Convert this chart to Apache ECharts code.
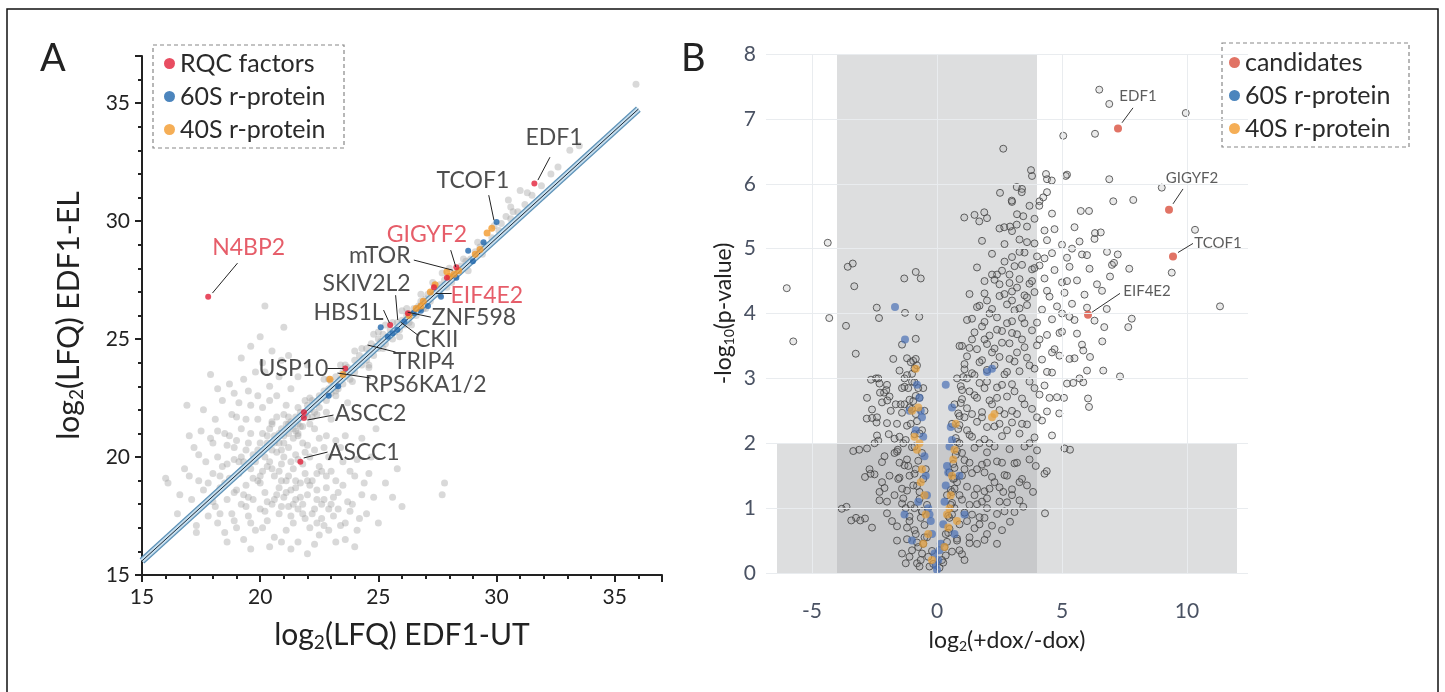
<!DOCTYPE html>
<html>
<head>
<meta charset="utf-8">
<script src="https://cdn.jsdelivr.net/npm/echarts@6/dist/echarts.min.js"></script>
<style>
  html, body { margin: 0; padding: 0; background: #fff; }
  #main { width: 1445px; height: 692px; }
</style>
</head>
<body>
<div id="main"></div>
<script>
// ---------- panel A: log2(LFQ) EDF1-UT vs EDF1-EL ----------
const grayA = [
  [20.6,20.9],[20.8,20.6],[20.9,21.2],[21.0,20.9],[21.1,21.4],[21.2,21.0],[21.3,21.5],[21.4,21.2],[21.5,21.7],[21.5,21.1],
  [21.6,21.4],[21.7,21.9],[21.8,21.3],[21.9,21.8],[22.0,22.2],[22.0,21.7],[22.1,22.0],[22.2,22.4],[22.3,21.9],[22.4,22.3],
  [22.5,22.6],[22.5,22.1],[22.6,22.5],[22.7,22.8],[22.8,22.4],[22.9,22.9],[23.0,23.2],[23.0,22.7],[23.1,23.0],[23.2,23.4],
  [23.3,22.9],[23.4,23.3],[23.5,23.6],[23.5,23.1],[23.6,23.5],[23.7,23.8],[23.8,23.3],[23.9,23.7],[24.0,24.1],[24.0,23.6],
  [24.1,23.9],[24.2,24.3],[24.3,23.9],[24.4,24.2],[24.5,24.6],[24.5,24.1],[24.6,24.4],[24.7,24.8],[24.8,24.3],[24.9,24.7],
  [25.0,25.0],[25.0,24.6],[25.1,24.9],[25.2,25.2],[25.3,24.8],[25.4,25.1],[25.5,25.4],[25.6,25.0],[25.7,25.3],[25.8,25.7],
  [25.9,25.4],[26.0,25.8],[26.1,25.6],[26.2,26.0],[26.3,25.7],[26.4,26.1],[26.5,26.3],[26.6,26.0],[26.7,26.4],[26.8,26.6],
  [26.9,26.3],[27.0,26.7],[27.1,26.9],[27.2,26.6],[27.3,27.0],[27.4,27.2],[27.5,26.9],[27.6,27.3],[27.8,27.5],[27.9,27.2],
  [28.0,27.6],[28.2,27.8],[28.4,27.9],[28.5,28.1],[28.7,28.3],[28.9,28.4],[29.1,28.7],[29.3,28.9],[29.5,29.0],[29.8,29.3],
  [30.1,29.6],[30.4,30.2],[30.6,30.1],[30.5,30.9],[30.6,30.6],[31.0,31.3],[31.3,31.2],[30.9,30.4],[31.2,30.7],[31.9,31.5],
  [32.3,32.0],[32.6,32.3],[33.1,33.0],[33.5,33.2],[35.9,35.8],[22.7,23.3],[24.0,24.5],[25.3,25.6],[23.2,22.6],[24.6,23.9],
  [21.2,21.7],[21.6,21.0],[22.1,22.5],[22.4,21.8],[22.9,23.3],[23.2,22.8],[23.6,23.9],[23.9,23.2],[24.3,24.6],[24.6,23.8],
  [25.0,25.3],[25.2,24.6],[25.6,25.7],[25.9,25.1],[26.2,26.3],[26.4,25.6],[26.8,26.9],[27.0,26.3],[27.3,27.4],[27.6,26.9],
  [28.0,28.0],[28.1,27.4],[28.6,28.4],[28.8,27.9],[29.2,29.1],[29.4,28.6],[29.9,29.8],[30.2,29.9],[30.7,30.4],[31.5,31.1],
  [20.5,21.4],[20.9,20.3],[20.3,20.6],[21.9,22.4],[23.4,23.9],[24.8,25.2],[26.0,26.2],[27.7,27.8],
  [16.1,18.9],[16.5,17.6],[16.8,19.5],[16.9,22.2],[17.1,18.2],[17.2,20.4],[17.3,17.1],[17.4,19.0],[17.5,21.1],[17.6,18.6],
  [17.7,19.8],[17.8,17.5],[17.9,20.8],[18.0,18.1],[18.0,19.3],[18.1,21.6],[18.2,17.2],[18.2,20.0],[18.3,18.7],[18.4,22.4],
  [18.4,19.6],[18.5,16.8],[18.5,21.0],[18.6,18.2],[18.6,20.5],[18.7,19.1],[18.7,23.1],[18.8,17.6],[18.8,21.8],[18.9,19.9],
  [18.9,18.5],[19.0,20.7],[19.0,17.0],[19.1,19.3],[19.1,22.3],[19.2,18.0],[19.2,21.2],[19.3,19.8],[19.3,16.5],[19.4,20.3],
  [19.4,18.8],[19.5,22.8],[19.5,17.5],[19.6,21.0],[19.6,19.5],[19.7,18.2],[19.7,20.1],[19.8,23.6],[19.8,16.9],[19.9,21.6],
  [19.9,19.0],[20.0,20.6],[20.0,17.8],[20.1,22.1],[20.1,19.4],[20.2,18.5],[20.2,26.4],[20.3,20.9],[20.3,17.3],[20.4,19.8],
  [20.4,23.0],[20.5,18.0],[20.5,21.5],[20.6,19.2],[20.6,16.6],[20.7,20.2],[20.7,22.6],[20.8,18.7],[20.8,17.6],[20.9,19.7],
  [20.9,24.1],[21.0,18.3],[21.0,21.8],[21.1,19.0],[21.1,16.9],[21.2,20.4],[21.2,17.9],[21.3,22.9],[21.3,18.6],[21.4,19.5],
  [21.4,17.2],[21.5,20.1],[21.5,18.2],[21.6,23.4],[21.6,16.4],[21.7,18.9],[21.8,17.6],[21.8,20.6],[21.9,19.3],[22.0,15.9],
  [22.0,18.4],[22.1,17.0],[22.1,20.0],[22.2,19.0],[22.3,17.8],[22.3,21.2],[22.4,18.6],[22.5,16.7],[22.5,19.6],[22.6,17.4],
  [22.7,18.2],[22.7,20.4],[22.8,19.2],[22.9,16.9],[23.0,18.0],[23.0,21.6],[23.1,17.5],[23.2,19.0],[23.3,18.5],[23.4,17.1],
  [23.5,19.8],[23.6,16.5],[23.7,18.1],[23.8,17.7],[24.0,19.2],[24.1,16.9],[24.3,18.4],[24.5,17.6],[24.7,20.0],[25.0,17.2],
  [25.3,18.9],[26.0,17.9],[27.7,18.4],[27.8,18.9],[19.6,24.7],[20.0,25.1],[20.5,24.5],[19.2,24.2],[21.0,25.5],[16.0,19.1],
  [19.1,19.8],[19.3,18.4],[19.5,20.6],[19.7,19.1],[19.9,20.3],[20.0,18.9],[20.2,20.0],[20.3,18.1],[20.4,21.2],[20.5,19.5],
  [20.6,20.6],[20.7,18.4],[20.8,21.0],[20.9,19.0],[21.0,20.0],[21.1,18.5],[21.2,21.4],[21.3,19.8],[21.4,18.0],[21.5,19.0],
  [21.6,20.9],[21.7,18.3],[21.8,19.7],[21.9,17.4],[22.0,20.5],[22.1,18.8],[22.2,21.7],[22.4,19.3],[22.6,18.0],[22.8,20.9],
  [18.6,19.7],[18.9,20.4],[18.3,19.2],[18.1,17.9],[19.4,17.9],[20.1,17.0],[20.9,16.4],[21.6,17.8],[22.9,17.8],[23.4,20.4],
  [17.0,19.2],[17.4,20.1],[17.8,18.9],[18.0,20.6],[18.3,17.6],[18.5,18.9],[18.7,20.9],[18.9,17.3],[19.0,18.6],[19.2,20.0],
  [19.4,21.6],[19.5,18.3],[19.6,17.2],[19.8,19.8],[19.9,22.6],[20.0,19.2],[20.1,21.0],[20.2,17.7],[20.3,19.6],[20.5,20.3],
  [20.6,18.2],[20.7,21.7],[20.8,19.4],[20.9,17.9],[21.0,20.6],[21.1,22.2],[21.2,19.2],[21.3,17.5],[21.4,20.8],[21.5,18.7],
  [21.6,19.9],[21.7,21.3],[21.8,18.0],[21.9,20.2],[22.0,19.0],[22.1,21.4],[22.2,17.6],[22.3,20.3],[22.4,18.2],[22.5,20.8],
  [22.6,19.4],[22.7,17.1],[22.8,18.7],[22.9,20.0],[23.0,19.4],[23.1,18.3],[23.2,20.7],[23.3,17.8],[23.5,18.8],[23.6,20.9],
  [23.8,19.4],[23.9,18.0],[24.1,19.9],[24.2,17.4],[24.4,18.9],[24.6,19.3],[24.8,18.3],[19.0,21.7],[18.2,21.1],[17.6,22.0],
  [17.0,20.9],[16.6,18.4],[17.3,16.8],[18.6,16.4],[19.6,16.1],[20.4,16.2],[21.3,16.1],[22.3,16.3],[23.2,16.4],[24.0,16.2],
  [19.3,23.3],[20.2,23.6],[20.8,23.4],[21.2,24.3],[18.2,22.9],[17.9,23.5],[22.0,23.9],[19.6,22.2],[20.4,22.4],[21.6,22.1],
  [18.9,22.7],[20.1,24.0],[22.4,17.2],[23.6,17.2],[25.6,18.3],[25.8,19.5],[24.9,21.2],[24.3,20.8],[23.7,22.3],[22.8,21.9]
];
const blueA = [
  [28.8,28.75],[29.45,29.1],[29.0,28.3],[27.65,26.8],[27.1,26.4],[26.5,26.1],[26.1,25.75],[25.8,25.4],
  [25.6,25.25],[25.4,25.1],[26.8,26.2],[23.3,23.0],[22.9,22.6],[28.3,27.6],[30.0,29.96],[25.1,25.5]
];
const orangeA = [
  [29.8,29.7],[29.6,29.5],[29.3,28.8],[29.1,28.6],[28.4,27.9],[28.2,27.75],[28.0,27.65],[27.9,27.85],
  [27.4,27.3],[27.2,27.0],[26.9,26.6],[26.8,26.4],[26.6,26.3],[26.3,26.0],[22.95,23.3],[23.5,23.5]
];
const redA = [
  [31.6,31.6],[17.8,26.8],[28.3,28.05],[27.35,27.2],[26.25,26.1],[25.5,25.6],[23.6,23.75],
  [21.85,21.65],[21.85,21.9],[21.7,19.8],[27.9,27.6]
];
const fitX = [15, 36];
const fitY = [15.6, 34.75];
const labelsA = [
  ['EDF1', 32.43, 33.56], ['TCOF1', 29.0, 31.74], ['GIGYF2', 27.05, 29.41], ['mTOR', 25.06, 28.52],
  ['SKIV2L2', 24.5, 27.37], ['EIF4E2', 29.59, 26.86], ['HBS1L', 23.74, 26.14], ['ZNF598', 29.04, 25.93],
  ['CKII', 27.47, 24.96], ['TRIP4', 26.92, 24.03], ['USP10', 21.41, 23.73], ['RPS6KA1/2', 27.0, 23.09],
  ['ASCC2', 24.67, 21.86], ['ASCC1', 24.38, 20.17], ['N4BP2', 19.51, 28.86]
];
const redLabelsA = ['N4BP2', 'GIGYF2', 'EIF4E2'];
const leadersA = [
  [[17.98,26.95],[19.04,28.22]], [[29.67,31.1],[29.89,30.04]], [[32.26,32.71],[31.75,31.74]],
  [[28.06,28.77],[28.28,28.05]], [[26.5,28.35],[28.15,27.92]], [[25.73,26.86],[25.82,25.81]],
  [[27.43,26.95],[28.1,26.95]], [[25.22,26.23],[25.47,25.68]], [[27.22,25.93],[26.24,26.14]],
  [[26.67,25.17],[25.94,25.72]], [[25.73,24.45],[24.54,24.75]], [[22.85,23.77],[23.53,23.77]],
  [[24.67,23.35],[23.27,23.56]], [[23.1,21.78],[22.0,21.57]], [[22.85,20.21],[21.84,19.96]]
];

// ---------- panel B: volcano ----------
const grayB = [
  [-0.3,0.1],[-0.15,0.14],[0.1,0.08],[0.25,0.16],
  [-0.6,0.3],[-0.2,0.34],[0.35,0.27],[0.6,0.33],[1.0,0.29],
  [-1.2,0.52],[-0.8,0.47],[-0.4,0.55],[0.4,0.48],[0.8,0.53],[1.3,0.46],[1.9,0.51],
  [-1.6,0.72],[-0.9,0.66],[-0.5,0.74],[0.5,0.68],[0.9,0.75],[1.5,0.69],[2.2,0.73],[2.6,0.66],
  [-2.0,0.92],[-1.1,0.87],[-0.6,0.95],[0.45,0.88],[1.1,0.93],[1.7,0.86],[2.4,0.91],[3.1,0.94],
  [-2.3,1.12],[-1.4,1.07],[-0.7,1.14],[0.6,1.08],[1.0,1.13],[1.6,1.06],[2.0,1.15],[2.8,1.09],[3.3,1.12],
  [-2.1,1.31],[-1.2,1.27],[-0.8,1.34],[0.55,1.28],[1.2,1.33],[1.9,1.26],[2.5,1.32],[3.0,1.29],[3.6,1.35],
  [-2.5,1.52],[-1.5,1.47],[-0.9,1.53],[0.7,1.46],[1.4,1.54],[2.2,1.48],[2.7,1.51],[3.4,1.45],[4.3,1.53],
  [-2.2,1.71],[-1.3,1.66],[-0.75,1.73],[0.65,1.68],[1.1,1.74],[1.8,1.67],[2.4,1.72],[3.1,1.69],[3.7,1.75],
  [-2.8,1.92],[-1.6,1.87],[-1.0,1.94],[0.8,1.88],[1.5,1.93],[2.0,1.86],[2.9,1.91],[3.5,1.95],[4.0,1.89],[5.1,1.92],
  [-2.4,2.12],[-1.7,2.07],[-0.9,2.14],[0.75,2.08],[1.3,2.13],[1.9,2.06],[2.6,2.11],[3.3,2.15],[3.9,2.09],[4.6,2.12],
  [-2.0,2.31],[-1.2,2.27],[-0.8,2.34],[0.9,2.28],[1.6,2.33],[2.3,2.26],[3.0,2.32],[3.6,2.29],[4.2,2.35],
  [-2.6,2.52],[-1.4,2.47],[-1.0,2.53],[0.85,2.46],[1.2,2.54],[1.8,2.48],[2.5,2.51],[3.2,2.45],[3.8,2.53],[4.4,2.49],
  [-1.9,2.72],[-1.1,2.67],[-0.85,2.73],[1.0,2.68],[1.5,2.74],[2.1,2.66],[2.8,2.72],[3.4,2.69],[4.1,2.75],[4.8,2.71],
  [-2.3,2.92],[-1.3,2.87],[-0.9,2.94],[0.95,2.88],[1.7,2.93],[2.4,2.86],[3.0,2.91],[3.7,2.95],[4.3,2.89],[5.2,2.92],
  [-1.5,3.12],[-1.0,3.07],[1.1,3.14],[1.4,3.08],[2.0,3.13],[2.7,3.06],[3.3,3.11],[3.9,3.15],[4.6,3.09],[6.0,3.12],
  [-1.2,3.31],[-0.95,3.27],[1.2,3.34],[1.8,3.28],[2.5,3.33],[3.1,3.26],[3.6,3.32],[4.2,3.29],[4.9,3.35],[5.5,3.31],
  [-1.4,3.52],[1.3,3.47],[2.0,3.53],[2.3,3.46],[2.9,3.54],[3.5,3.48],[4.0,3.51],[4.7,3.45],[5.8,3.52],
  [1.5,3.71],[2.1,3.66],[2.6,3.73],[3.2,3.68],[3.8,3.74],[4.4,3.67],[5.0,3.72],[5.6,3.69],
  [1.4,3.92],[1.9,3.87],[2.4,3.94],[3.0,3.88],[3.4,3.93],[4.0,3.86],[4.6,3.91],[5.3,3.95],[6.3,3.89],
  [1.7,4.12],[2.2,4.07],[2.8,4.14],[3.3,4.08],[3.6,4.13],[4.2,4.06],[4.8,4.11],[5.4,4.15],[6.0,4.09],
  [1.9,4.31],[2.5,4.27],[3.0,4.34],[3.5,4.28],[3.9,4.33],[4.5,4.26],[5.1,4.32],[5.9,4.29],[6.6,4.35],
  [2.3,4.52],[2.9,4.47],[3.3,4.53],[3.7,4.46],[4.3,4.54],[5.0,4.48],[5.6,4.51],[6.4,4.45],
  [1.6,4.71],[2.6,4.66],[3.1,4.73],[3.8,4.68],[4.1,4.74],[4.7,4.67],[5.3,4.72],[6.1,4.69],[7.0,4.75],
  [2.2,4.92],[3.0,4.87],[3.5,4.94],[4.0,4.88],[4.6,4.93],[5.2,4.86],[5.8,4.91],[6.8,4.95],
  [1.8,5.12],[2.7,5.07],[3.3,5.14],[3.9,5.08],[4.4,5.13],[5.0,5.06],[5.7,5.11],[6.3,5.15],
  [2.5,5.31],[3.0,5.27],[3.6,5.34],[4.3,5.28],[5.5,5.33],
  [1.5,5.52],[2.0,5.47],[3.2,5.53],[3.9,5.46],[4.6,5.54],
  [3.0,5.72],[3.7,5.66],[4.1,5.73],[3.4,5.92],[4.4,5.87],[3.8,6.12],[4.4,6.07],[5.2,6.14],
  [0.9,0.35],[1.3,0.55],[1.7,0.75],[0.7,1.0],[1.3,1.05],[2.0,1.0],[0.8,1.4],[1.6,1.3],[2.3,1.4],[1.1,1.6],
  [1.9,1.55],[2.6,1.7],[1.0,1.85],[1.7,2.0],[2.3,1.95],[1.2,2.2],[2.0,2.25],[2.8,2.2],[1.4,2.45],[2.2,2.6],
  [3.0,2.5],[1.3,2.8],[1.9,2.85],[2.6,2.9],[1.5,3.05],[2.3,3.2],[2.9,3.3],[1.6,3.45],[2.6,3.55],[3.4,3.6],
  [1.8,3.8],[2.8,3.85],[2.1,4.0],[3.1,4.05],[2.7,4.3],[3.2,4.4],[3.6,4.25],[2.4,4.6],[3.4,4.75],
  [-0.45,1.6],[-0.6,2.2],[-0.7,2.7],[-0.55,0.45],[-0.9,1.0],[-1.2,1.75],[-1.1,2.55],[-0.8,3.2],[-1.0,0.35],
  [-6.01,4.39],[-5.75,3.57],[-4.37,5.09],[-4.31,3.93],[-3.57,4.72],[-3.37,4.77],[-3.31,4.42],[-3.64,3.81],
  [-3.25,3.38],[-2.41,4.09],[-2.32,3.93],[-1.31,4.54],[-0.85,4.64],[-0.65,4.54],[-1.28,4.01],[-0.71,3.95],
  [-0.85,3.61],[2.65,6.54],[3.76,6.21],[4.36,6.15],[4.59,6.05],[5.15,6.12],[2.52,5.86],[3.39,5.87],[3.19,5.95],
  [2.99,5.74],[4.25,5.79],[4.09,5.66],[1.09,5.48],[1.69,5.42],[1.89,5.56],[2.69,5.33],[2.92,5.34],[3.19,5.37],
  [3.45,5.5],[5.05,6.74],[6.32,6.77],[6.49,7.45],[6.89,7.23],[9.95,7.09],[6.89,6.07],[7.05,5.73],[7.85,5.75],
  [5.75,5.58],[6.08,5.58],[8.99,5.94],[10.32,5.29],[9.39,4.63],[11.32,4.11],[7.69,4.69],[7.23,4.91],[7.08,4.78],
  [6.92,4.57],[6.32,5.24],[6.55,5.25],[7.79,3.92],[7.65,3.79],[6.69,3.79],[6.61,3.57],[5.85,3.43],[6.12,3.33],
  [6.79,4.07],[-3.62,1.02],[-3.24,0.85],[-2.88,0.84],[-3.11,1.9],[-2.66,1.53],[-2.44,3.0],[-2.6,2.39],
  [-2.42,2.32],[-2.12,2.78],[-2.03,2.82],[-2.2,2.63],[-1.93,2.14],[-1.57,1.9],[-2.35,2.04],[5.32,1.9],
  [4.32,0.92],[3.45,1.02],[2.92,0.79],[2.65,1.25],[3.84,1.25],[4.39,1.57],[3.95,1.65],[-3.81,0.99],
  [-3.43,0.81],[-3.07,0.81],[-3.35,1.88],[-2.88,1.48],[-2.64,2.98],[-2.28,2.78],[-1.99,2.66],[-2.81,2.38],
  [5.85,2.94],[6.04,2.69],[6.08,2.56],[6.65,3.12],[7.32,3.03],[5.45,2.93],[5.08,2.7],[4.89,2.46],
  [-1.7,1.2],[-1.8,0.8],[-1.6,0.5],[-1.9,1.5],[-2.0,1.1],[-2.1,1.8],[-2.2,1.4],[-1.4,0.3],[-1.25,0.15],
  [-0.8,0.15],[-0.65,0.2],[-2.4,2.4],[-2.6,0.7],[-2.3,1.25],[-2.7,1.6],[-2.5,2.0],[-1.85,2.5],[-2.0,2.9],
  [-1.75,3.3],[-2.35,3.0],[-2.8,2.7],[-1.25,1.0],[-1.4,1.3],[-1.2,0.7],[-1.5,1.7],[-1.35,2.0],[-1.6,2.3],
  [-1.45,2.6],[-1.3,3.0],[-0.75,0.4],[-1.05,1.05],[-1.1,1.5],[-0.5,2.5],[-0.55,2.85],
  [0.2,0.2],[0.3,0.4],[0.45,0.62],[0.5,0.85],[0.55,1.05],[0.6,1.25],[0.65,1.45],[0.7,1.62],[0.75,1.82],
  [0.8,2.02],[0.85,2.22],[0.9,2.42],[0.95,2.62],[1.0,2.82],[1.05,3.02],[1.1,3.22],
  [-0.35,0.25],[-0.5,0.55],[-0.65,0.85],[-0.4,1.05],[-0.7,1.25],[-0.95,1.35],[-0.55,1.45],[-0.85,1.6],
  [-1.15,1.65],[-0.6,1.85],[-0.9,1.95],[-1.25,2.05],[-0.7,2.15],[-1.05,2.3],[-0.85,2.45],[-1.3,2.6],
  [-0.95,2.65],[-0.75,2.85],[-1.15,2.85],[-1.0,2.95],[-0.9,3.15],[-1.2,3.05],[-0.85,3.3],[-1.05,3.25],
  [-0.6,0.95],[-0.85,0.6],[-1.1,0.8],[-1.35,1.15],[-1.55,1.45],[-1.7,1.85],[-1.5,2.1],[-1.65,2.6],
  [-1.4,2.85],[-1.1,0.25],[-0.7,0.1],
  [0.35,0.6],[0.6,0.9],[0.9,1.2],[1.2,0.8],[1.5,1.2],[1.8,1.1],[2.1,1.3],[2.5,1.1],[0.7,1.3],[1.0,1.5],
  [1.3,1.7],[1.6,1.6],[2.0,1.7],[2.8,1.5],[3.2,1.7],[0.9,2.0],[1.4,2.1],[1.8,2.4],[2.1,2.0],[2.5,2.3],
  [3.4,2.3],[3.7,2.0],[1.1,2.4],[1.6,2.7],[2.0,2.95],[2.4,2.7],[2.7,2.45],[3.1,2.8],[3.5,2.6],[4.0,2.4],
  [1.2,3.0],[1.7,3.25],[2.2,3.4],[2.8,3.1],[3.2,3.4],[3.7,3.2],[4.4,3.1],[1.4,3.6],[1.9,3.6],[2.4,3.75],
  [3.0,3.7],[3.5,3.85],[4.1,3.6],[4.6,3.4],[2.0,4.2],[2.5,4.45],[3.0,4.2],[3.8,4.5],[4.4,4.35],[2.7,4.8],
  [3.3,4.95],[3.9,4.7],[4.3,4.85],[2.2,4.6],[1.2,3.9],[1.0,3.5],[5.0,4.0],[5.5,3.9],[5.2,4.5],[0.8,0.5],
  [1.1,0.2],[1.6,0.45],[2.0,0.6],[2.4,0.45],[1.4,0.9],[1.9,0.85],[2.7,0.95],[3.0,1.2],[3.3,1.4],[0.4,1.2],
  [0.5,1.55],[0.6,2.3],[0.7,2.6],[0.8,3.0],[0.9,3.5],[1.3,4.3],[1.6,4.1],[1.9,4.5],[2.9,4.6],[3.6,5.1],
  [4.7,5.3],[5.4,5.0],[6.0,4.9],[4.9,3.7],[5.3,3.3],[5.7,3.0],[4.5,2.7],[3.9,2.85]
];
const blueB = [
  [0.0,0.05],[0.05,0.2],[-0.1,0.3],[0.15,0.45],[-0.2,0.6],[0.25,0.75],[-0.3,0.9],[0.3,1.1],[-0.4,1.2],
  [0.35,1.35],[-0.45,1.5],[0.4,1.65],[-0.5,1.8],[0.5,1.95],[-0.55,2.1],[0.55,2.25],[-0.6,2.4],[0.6,2.55],
  [-0.7,2.7],[-0.8,2.9],[-1.68,4.1],[-1.28,3.6],[-1.0,0.5],[-0.75,1.1],[0.7,0.6],[0.9,1.5],[1.1,0.9],
  [2.0,3.1],[2.2,3.15],[-1.3,0.9],[-1.1,2.5],[-0.85,2.2],[0.35,2.9],[-0.05,0.12],[0.1,0.35],[-0.25,0.8],
  [0.45,1.55],[-0.35,1.0],[0.6,2.05],[-0.65,2.5]
];
const orangeB = [
  [-0.85,3.15],[-0.9,2.1],[-0.7,2.0],[-0.8,1.9],[-0.6,1.6],[-0.5,1.2],[-0.45,0.9],[-0.35,0.6],[-0.2,0.2],
  [0.3,0.4],[0.4,0.9],[0.55,1.2],[0.6,1.5],[0.7,1.9],[0.75,2.3],[0.5,1.0],[0.45,0.7],[-0.55,0.45],
  [2.2,2.4],[2.3,2.45],[0.8,0.8],[-0.65,1.4],[0.65,1.75],[-1.0,2.5],[-0.75,2.55]
];
const redB = [[7.24,6.85],[9.28,5.6],[9.44,4.88],[6.04,3.98]];
const labelsB = [['EDF1', 8.04, 7.35], ['GIGYF2', 10.2, 6.09], ['TCOF1', 11.24, 5.09], ['EIF4E2', 8.4, 4.35]];
const leadersB = [
  [[7.84,7.17],[7.4,6.94]], [[9.84,5.92],[9.44,5.69]], [[10.24,5.08],[9.64,4.94]], [[7.32,4.31],[6.2,4.02]]
];
const xTicksB = [-5, 0, 5, 10];
const yTicksB = [0, 1, 2, 3, 4, 5, 6, 7, 8];
// shaded non-significant zones: [x0, x1, y0, y1]
const zonesB = [[-4, 4, 0, 8], [-6.4, 12, 0, 2]];

const FONT = 'Lato';
const chart = echarts.init(document.getElementById('main'));

const subName = (size) => ({
  t: { fontFamily: FONT, fontSize: size, color: '#222' },
  s: { fontFamily: FONT, fontSize: Math.round(size * 0.62), color: '#222', padding: [Math.round(size * 0.45), 0, 0, 0] }
});

const axisA = {
  type: 'value', min: 15, max: 37, interval: 5,
  axisLine: { lineStyle: { color: '#222', width: 2 } },
  axisTick: { length: 7, lineStyle: { color: '#222', width: 2 } },
  minorTick: { show: true, splitNumber: 5, length: 4, lineStyle: { color: '#222', width: 2 } },
  splitLine: { show: false },
  nameLocation: 'middle'
};
const labelA = { fontFamily: FONT, fontSize: 21, color: '#222', margin: 12, showMaxLabel: false };

const option = {
  animation: false,
  grid: [
    { left: 142, top: 56, width: 520, height: 519 },
    { left: 766, top: 54, width: 482, height: 519 }
  ],
  xAxis: [
    Object.assign({}, axisA, {
      gridIndex: 0, name: '{t|log}{s|2}{t|(LFQ) EDF1-UT}', nameGap: 44,
      nameTextStyle: { rich: subName(30) }, axisLabel: labelA
    }),
    {
      type: 'value', gridIndex: 1, min: -6.84, max: 12.44,
      axisLine: { show: false }, axisTick: { show: false }, splitLine: { show: false },
      axisLabel: { customValues: xTicksB, fontFamily: FONT, fontSize: 21, color: '#4a5263', margin: 28 },
      name: '{t|log}{s|2}{t|(+dox/-dox)}', nameLocation: 'middle', nameGap: 56,
      nameTextStyle: { rich: subName(23) }
    }
  ],
  yAxis: [
    Object.assign({}, axisA, {
      gridIndex: 0, name: '{t|log}{s|2}{t|(LFQ) EDF1-EL}', nameGap: 56,
      nameTextStyle: { rich: subName(30) }, axisLabel: labelA
    }),
    {
      type: 'value', gridIndex: 1, min: 0, max: 8, interval: 1,
      axisLine: { show: false }, axisTick: { show: false }, splitLine: { show: false },
      axisLabel: { fontFamily: FONT, fontSize: 21, color: '#4a5263', margin: 10 },
      name: '{t|-log}{s|10}{t|(p-value)}', nameLocation: 'middle', nameGap: 30,
      nameTextStyle: { rich: subName(23) }
    }
  ],
  legend: [
    {
      left: 164, top: 51, orient: 'vertical', padding: 0, itemGap: 8, selectedMode: false,
      icon: 'circle', itemWidth: 11, itemHeight: 11,
      data: ['RQC factors', '60S r-protein', '40S r-protein'],
      textStyle: { fontFamily: FONT, fontSize: 25, color: '#2a2a2a', lineHeight: 22 }
    },
    {
      left: 1229, top: 50, orient: 'vertical', padding: 0, itemGap: 8, selectedMode: false,
      icon: 'circle', itemWidth: 11, itemHeight: 11,
      data: ['candidates', '60S r-protein', '40S r-protein'],
      textStyle: { fontFamily: FONT, fontSize: 25, color: '#2a2a2a', lineHeight: 22 }
    }
  ],
  graphic: [
    { type: 'rect', shape: { x: 7, y: 9, width: 1431, height: 700 }, style: { fill: null, stroke: '#111', lineWidth: 1.5 }, z: 100 },
    { type: 'text', left: 40, top: 40, style: { text: 'A', font: '38px Lato', fill: '#222' } },
    { type: 'text', left: 681, top: 40, style: { text: 'B', font: '38px Lato', fill: '#222' } },
    { type: 'rect', shape: { x: 153, y: 45, width: 191, height: 103 }, style: { fill: null, stroke: '#888', lineWidth: 1.2, lineDash: [4, 3] } },
    { type: 'rect', shape: { x: 1222, y: 43, width: 187, height: 104 }, style: { fill: null, stroke: '#888', lineWidth: 1.2, lineDash: [4, 3] } }
  ],
  series: [
    // panel A
    { type: 'scatter', name: 'grayA', xAxisIndex: 0, yAxisIndex: 0, data: grayA, symbolSize: 7,
      itemStyle: { color: 'rgba(160,160,160,0.5)' }, z: 2, silent: true },
    { type: 'line', xAxisIndex: 0, yAxisIndex: 0, data: fitX.map((x, i) => [x, fitY[i]]), symbol: 'none',
      lineStyle: { color: '#5e93b8', width: 7 }, z: 3, silent: true },
    { type: 'line', xAxisIndex: 0, yAxisIndex: 0, data: fitX.map((x, i) => [x, fitY[i]]), symbol: 'none',
      lineStyle: { color: '#c6deee', width: 4.5 }, z: 3, silent: true },
    { type: 'line', xAxisIndex: 0, yAxisIndex: 0, data: fitX.map((x, i) => [x, fitY[i]]), symbol: 'none',
      lineStyle: { color: '#1e2a36', width: 1 }, z: 3, silent: true },
    { type: 'scatter', name: '60S r-protein', xAxisIndex: 0, yAxisIndex: 0, data: blueA, symbolSize: 6,
      itemStyle: { color: '#1f66ad' }, z: 4 },
    { type: 'scatter', name: '40S r-protein', xAxisIndex: 0, yAxisIndex: 0, data: orangeA, symbolSize: 7,
      itemStyle: { color: '#f39a2c' }, z: 4 },
    { type: 'scatter', name: 'RQC factors', xAxisIndex: 0, yAxisIndex: 0, data: redA, symbolSize: 6,
      itemStyle: { color: '#e2203a' }, z: 5 },
    { type: 'lines', coordinateSystem: 'cartesian2d', xAxisIndex: 0, yAxisIndex: 0,
      data: leadersA.map(c => ({ coords: c })), lineStyle: { color: '#222', width: 1, opacity: 1 }, z: 6, silent: true },
    { type: 'scatter', xAxisIndex: 0, yAxisIndex: 0, symbolSize: 0.1, silent: true, z: 7,
      itemStyle: { color: 'transparent' },
      data: labelsA.map(l => ({ value: [l[1], l[2]], name: l[0],
        label: { color: redLabelsA.includes(l[0]) ? '#e03444' : '#222' } })),
      label: { show: true, position: 'inside', formatter: '{b}', fontFamily: FONT, fontSize: 23 } },

    // panel B
    { type: 'scatter', xAxisIndex: 1, yAxisIndex: 1, data: [], z: 0, silent: true,
      markLine: { silent: true, symbol: 'none', label: { show: false },
        lineStyle: { color: '#e9ecef', type: 'solid', width: 1 },
        data: xTicksB.map(v => ({ xAxis: v })).concat(yTicksB.map(v => ({ yAxis: v }))) } },
    { type: 'scatter', xAxisIndex: 1, yAxisIndex: 1, data: [], z: 1, silent: true,
      markArea: { silent: true, itemStyle: { color: 'rgba(160,163,166,0.36)' },
        data: zonesB.map(z => [{ xAxis: z[0], yAxis: z[2] }, { xAxis: z[1], yAxis: z[3] }]) } },
    { type: 'scatter', name: 'grayB', xAxisIndex: 1, yAxisIndex: 1, data: grayB, symbolSize: 7, z: 2, silent: true,
      itemStyle: { color: 'rgba(150,150,150,0.25)', borderColor: '#3f3f3f', borderWidth: 1 } },
    { type: 'scatter', name: '60S r-protein', xAxisIndex: 1, yAxisIndex: 1, data: blueB, symbolSize: 8, z: 3,
      itemStyle: { color: 'rgba(70,110,180,0.85)' } },
    { type: 'scatter', name: '40S r-protein', xAxisIndex: 1, yAxisIndex: 1, data: orangeB, symbolSize: 8, z: 3,
      itemStyle: { color: 'rgba(228,160,60,0.9)' } },
    { type: 'scatter', name: 'candidates', xAxisIndex: 1, yAxisIndex: 1, data: redB, symbolSize: 8, z: 4,
      itemStyle: { color: '#d9503e' } },
    { type: 'lines', coordinateSystem: 'cartesian2d', xAxisIndex: 1, yAxisIndex: 1,
      data: leadersB.map(c => ({ coords: c })), lineStyle: { color: '#333', width: 1, opacity: 1 }, z: 5, silent: true },
    { type: 'scatter', xAxisIndex: 1, yAxisIndex: 1, symbolSize: 0.1, silent: true, z: 6,
      itemStyle: { color: 'transparent' },
      data: labelsB.map(l => ({ value: [l[1], l[2]], name: l[0] })),
      label: { show: true, position: 'inside', formatter: '{b}', fontFamily: FONT, fontSize: 15, color: '#333' } }
  ]
};

chart.setOption(option);
window.addEventListener('resize', function () { chart.resize(); });
</script>
</body>
</html>
